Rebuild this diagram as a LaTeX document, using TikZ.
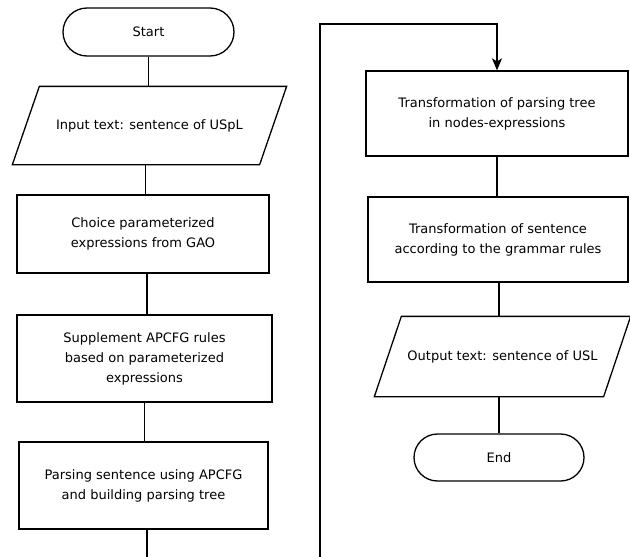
\documentclass[tikz,border=0pt]{standalone}
\usepackage{fontspec}
\setmainfont{DejaVu Sans}
\usetikzlibrary{arrows.meta,shapes.misc,calc}
\begin{document}
\begin{tikzpicture}[x=1pt,y=-1pt,line width=1.3pt,
  txt/.style={inner sep=0pt,align=center,font=\fontsize{13}{20}\selectfont},
  box/.style={txt,draw,rectangle},
  term/.style={txt,draw,rounded rectangle},
  io/.style={txt},
  flow/.style={line width=1.3pt},
  arr/.style={flow,-{Stealth[length=12pt,width=10pt,inset=3pt]}}]
\path[use as bounding box] (0,0) rectangle (630,557);
\clip (0,0) rectangle (630,557);
% left column
\node[term,minimum width=171pt,minimum height=48pt] (start) at (148.5,32) {Start};
\node[io,minimum width=273pt,minimum height=77pt] (in) at (149.5,125.5) {Input text: sentence of USpL};
\draw ([xshift=27pt]in.north west) -- (in.north east) -- ([xshift=-27pt]in.south east) -- (in.south west) -- cycle;
\node[box,minimum width=252pt,minimum height=78pt] (choice) at (143,234) {Choice parameterized\\expressions from GAO};
\node[box,minimum width=255pt,minimum height=87pt] (supp) at (144.5,358.5) {Supplement APCFG rules\\based on parameterized\\expressions};
\node[box,minimum width=249pt,minimum height=87pt] (parse) at (143.5,485.5) {Parsing sentence using APCFG\\and building parsing tree};
% right column
\node[box,minimum width=262pt,minimum height=85pt] (tr1) at (497,113.5) {Transformation of parsing tree\\in nodes-expressions};
\node[box,minimum width=260pt,minimum height=85pt] (tr2) at (498,239.5) {Transformation of sentence\\according to the grammar rules};
\node[io,minimum width=255pt,minimum height=79pt] (out) at (502.5,356.5) {Output text: sentence of USL};
\draw ([xshift=27pt]out.north west) -- (out.north east) -- ([xshift=-27pt]out.south east) -- (out.south west) -- cycle;
\node[term,minimum width=170pt,minimum height=47pt] (end) at (499,457.5) {End};
% connectors
\coordinate (a1) at ($(in.south)+(-4,0)$);
\coordinate (a2) at ($(choice.south)+(4,0)$);
\coordinate (a3) at ($(parse.south)+(3.5,0)$);
\coordinate (a4) at ($(tr2.south)+(1,0)$);
\draw[flow] (start.south) -- (start.south |- in.north);
\draw[flow] (a1) -- (a1 |- choice.north);
\draw[flow] (a2) -- (a2 |- supp.north);
\draw[flow] (supp.south) -- (supp.south |- parse.north);
\coordinate (b1) at (147,590);
\coordinate (b2) at (320,590);
\coordinate (t1) at (320,24);
\coordinate (t2) at (497,24);
\draw[arr] (a3) -- (b1) -- (b2) -- (t1) -- (t2) -- (tr1.north);
\draw[flow] (tr1.south) -- (tr1.south |- tr2.north);
\draw[flow] (a4) -- (a4 |- out.north);
\draw[flow] (end.north |- out.south) -- (end.north);
\end{tikzpicture}
\end{document}
